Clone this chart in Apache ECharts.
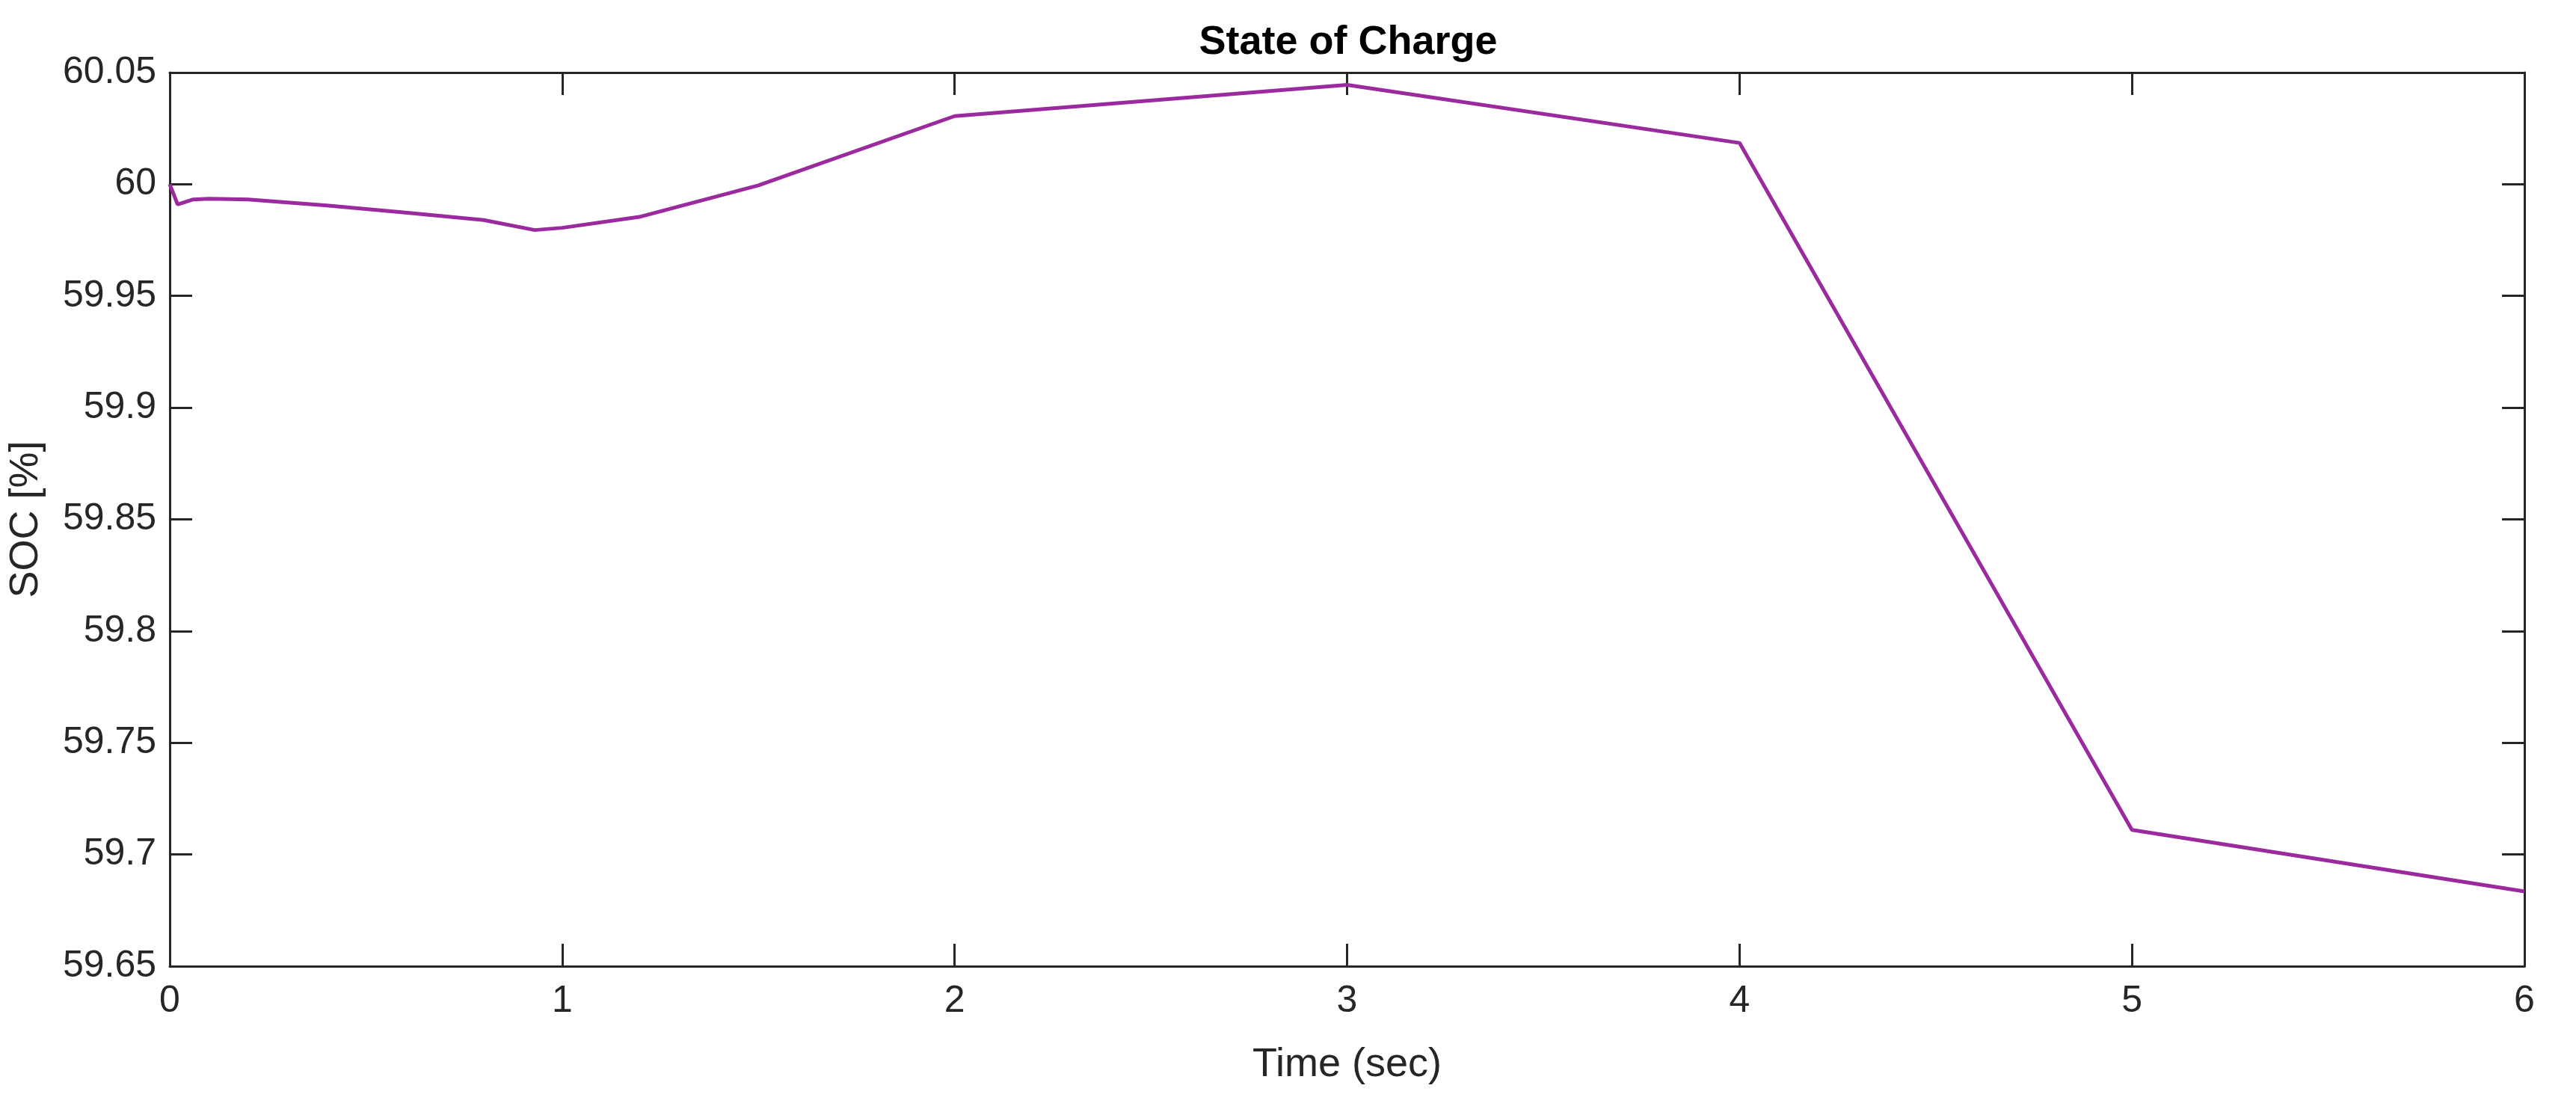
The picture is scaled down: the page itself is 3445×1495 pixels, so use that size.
<!DOCTYPE html>
<html><head><meta charset="utf-8">
<script src="https://cdn.jsdelivr.net/npm/echarts@6/dist/echarts.min.js"></script>
<style>html,body{margin:0;padding:0;background:#fff}#c{width:3445px;height:1495px}</style>
</head><body><div id="c"></div>
<script>
const timeSec = [0, 0.02, 0.06, 0.1, 0.2, 0.4, 0.6, 0.8, 0.93, 1.0, 1.2, 1.5, 2.0, 3.0, 4.0, 5.0, 6.0];
const socPct = [60.0, 59.991, 59.9932, 59.9935, 59.9932, 59.9905, 59.9873, 59.984, 59.9795, 59.9805, 59.9855, 59.9995, 60.0305, 60.0445, 60.0185, 59.711, 59.6835];
const xTicks = [0, 1, 2, 3, 4, 5, 6];
const yTicks = [59.65, 59.7, 59.75, 59.8, 59.85, 59.9, 59.95, 60, 60.05];

const fam = 'Liberation Sans, Arial, sans-serif';
const axisCol = '#262626';
const chart = echarts.init(document.getElementById('c'), null, {renderer: 'canvas'});
const axLine = {show: true, onZero: false, lineStyle: {color: axisCol, width: 3}};
const tick = {show: true, inside: true, length: 30, lineStyle: {color: axisCol, width: 3}};
chart.setOption({
  animation: false,
  title: {text: 'State of Charge', left: 1798, top: 25, textAlign: 'center',
    textStyle: {fontFamily: fam, fontSize: 54, fontWeight: 'bold', color: '#000'}},
  grid: {left: 220, right: 69, top: 97, bottom: 203, containLabel: false},
  xAxis: [{type: 'value', min: xTicks[0], max: xTicks[xTicks.length - 1], interval: 1,
    name: 'Time (sec)', nameLocation: 'middle', nameGap: 105,
    nameTextStyle: {fontFamily: fam, fontSize: 54, color: axisCol},
    axisLine: axLine, axisTick: tick, splitLine: {show: false},
    axisLabel: {fontFamily: fam, fontSize: 50, color: axisCol, margin: 22}},
   {type: 'value', position: 'top', min: 0, max: 6, interval: 1, axisLine: axLine,
    axisTick: tick, axisLabel: {show: false}, splitLine: {show: false}}],
  yAxis: [{type: 'value', min: yTicks[0], max: yTicks[yTicks.length - 1], interval: 0.05,
    name: 'SOC [%]', nameLocation: 'middle', nameGap: 165, nameRotate: 90,
    nameTextStyle: {fontFamily: fam, fontSize: 54, color: axisCol},
    axisLine: axLine, axisTick: tick, splitLine: {show: false},
    axisLabel: {fontFamily: fam, fontSize: 50, color: axisCol, margin: 18,
      formatter: v => String(parseFloat(v.toFixed(2)))}},
   {type: 'value', position: 'right', min: 59.65, max: 60.05, interval: 0.05,
    axisLine: axLine, axisTick: tick, axisLabel: {show: false}, splitLine: {show: false}}],
  series: [{type: 'line', xAxisIndex: 0, yAxisIndex: 0, showSymbol: false, smooth: false,
    lineStyle: {color: '#9a2a9e', width: 5},
    data: timeSec.map((t, i) => [t, socPct[i]])}]
});
</script></body></html>
